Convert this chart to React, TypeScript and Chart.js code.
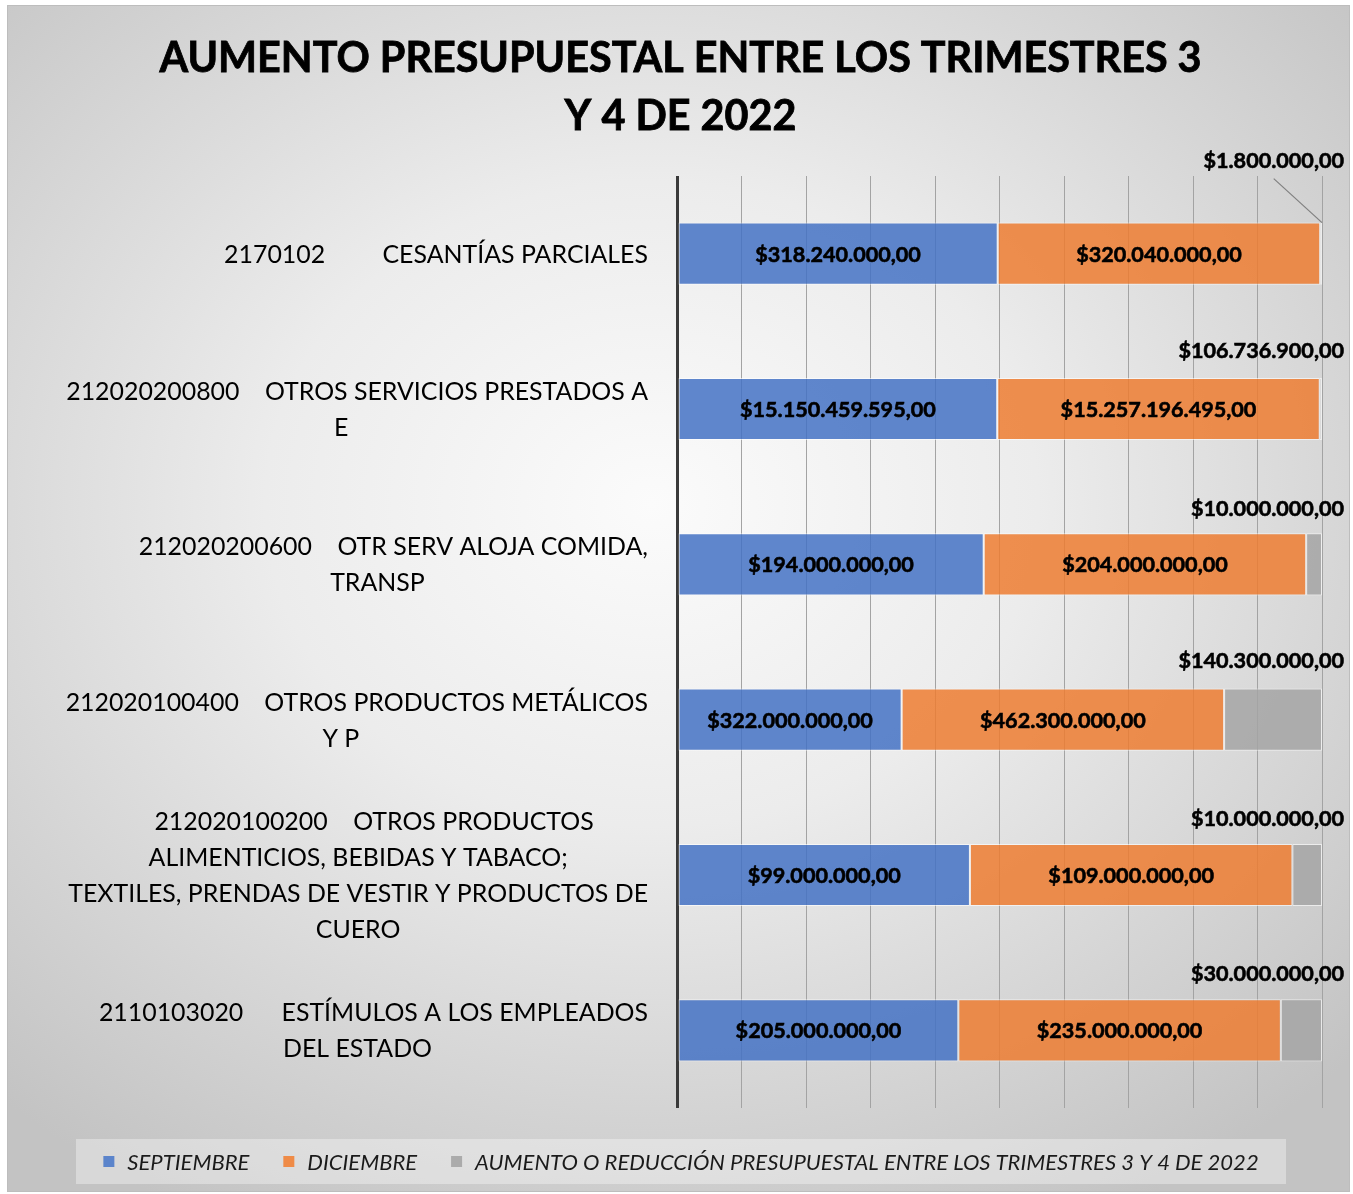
import React, { useEffect, useRef } from "react";
import { Chart, registerables } from "chart.js";

Chart.register(...registerables);

// ---------- data ----------
const TITLE_LINES = ["AUMENTO PRESUPUESTAL ENTRE LOS TRIMESTRES 3", "Y 4 DE 2022"];

const CATEGORIES: string[][] = [
  ["2170102         CESANTÍAS PARCIALES"],
  ["212020200800    OTROS SERVICIOS PRESTADOS A", "E     "],
  ["212020200600    OTR SERV ALOJA COMIDA,", "TRANSP     "],
  ["212020100400    OTROS PRODUCTOS METÁLICOS", "Y P     "],
  [
    "     212020100200    OTROS PRODUCTOS",
    "ALIMENTICIOS, BEBIDAS Y TABACO;",
    "TEXTILES, PRENDAS DE VESTIR Y PRODUCTOS DE",
    "CUERO",
  ],
  ["2110103020      ESTÍMULOS A LOS EMPLEADOS", "DEL ESTADO     "],
];

const SERIES_NAMES = [
  "SEPTIEMBRE",
  "DICIEMBRE",
  "AUMENTO O REDUCCIÓN PRESUPUESTAL ENTRE LOS TRIMESTRES 3 Y 4 DE 2022",
];

const SEPTIEMBRE = [318240000, 15150459595, 194000000, 322000000, 99000000, 205000000];
const DICIEMBRE = [320040000, 15257196495, 204000000, 462300000, 109000000, 235000000];
const AUMENTO = [1800000, 106736900, 10000000, 140300000, 10000000, 30000000];

const PERCENT_TICKS = [0, 10, 20, 30, 40, 50, 60, 70, 80, 90, 100];

// ---------- styling ----------
const COLORS = ["rgba(68,114,196,0.85)", "rgba(237,125,49,0.85)", "rgba(165,165,165,0.85)"];
const LEGEND_MARKERS = ["#5b84cb", "#ef8b47", "#ababab"];
const FONT = "Lato, 'Open Sans', sans-serif";
const CALLOUT_RISE = [93, 58, 55, 59, 56, 56];

const W = 1341;
const H = 1185;

function fmt(v: number): string {
  const [i, d] = v.toFixed(2).split(".");
  return "$" + i.replace(/\B(?=(\d{3})+(?!\d))/g, ".") + "," + d;
}

function boldText(ctx: CanvasRenderingContext2D, s: string, x: number, y: number) {
  ctx.fillText(s, x, y);
  ctx.strokeText(s, x, y);
}

export default function App() {
  const ref = useRef<HTMLCanvasElement | null>(null);

  useEffect(() => {
    if (!ref.current) return;
    const totals = SEPTIEMBRE.map((v, i) => v + DICIEMBRE[i] + AUMENTO[i]);
    const raw = [SEPTIEMBRE, DICIEMBRE, AUMENTO];
    const pct = raw.map((arr) => arr.map((v, i) => (v / totals[i]) * 100));

    const customDraw = {
      id: "customDraw",
      afterDatasetsDraw(chart: any) {
        const ctx = chart.ctx as CanvasRenderingContext2D;
        const area = chart.chartArea;
        ctx.save();
        ctx.fillStyle = "#000";
        ctx.strokeStyle = "#000";
        ctx.lineWidth = 0.6;
        ctx.textBaseline = "middle";
        ctx.font = `bold 21.6px ${FONT}`;
        for (let d = 0; d < 3; d++) {
          const meta = chart.getDatasetMeta(d);
          meta.data.forEach((el: any, i: number) => {
            const val = raw[d][i];
            if (d < 2) {
              ctx.textAlign = "center";
              boldText(ctx, fmt(val), (el.x + el.base) / 2, el.y + 1);
            } else {
              const rise = CALLOUT_RISE[i];
              const ly = el.y - rise;
              const rx = area.right + 22;
              ctx.textAlign = "right";
              ctx.strokeStyle = "#000";
              ctx.lineWidth = 0.6;
              boldText(ctx, fmt(val), rx, ly);
              if (rise > 70) {
                const tw = ctx.measureText(fmt(val)).width;
                ctx.strokeStyle = "#7f7f7f";
                ctx.lineWidth = 1.2;
                ctx.beginPath();
                ctx.moveTo(rx - tw / 2, ly + 18);
                ctx.lineTo(el.x, el.y - el.height / 2);
                ctx.stroke();
              }
            }
          });
        }
        ctx.restore();
      },
      afterDraw(chart: any) {
        const ctx = chart.ctx as CanvasRenderingContext2D;
        const area = chart.chartArea;
        const yScale = chart.scales.y;
        ctx.save();
        // title
        ctx.fillStyle = "#000";
        ctx.strokeStyle = "#000";
        ctx.lineWidth = 0.8;
        ctx.textAlign = "center";
        ctx.textBaseline = "middle";
        ctx.font = `bold 41.3px ${FONT}`;
        boldText(ctx, TITLE_LINES[0], W / 2 + 2, 53);
        boldText(ctx, TITLE_LINES[1], W / 2 + 2, 111);

        // category labels
        ctx.font = `24.9px ${FONT}`;
        const right = area.left - 29;
        CATEGORIES.forEach((lines, i) => {
          const y = yScale.getPixelForValue(i);
          const lh = 36;
          const y0 = y - ((lines.length - 1) * lh) / 2;
          const bw = Math.max(...lines.map((l) => ctx.measureText(l).width));
          const cx = right - bw / 2;
          lines.forEach((l, k) => ctx.fillText(l, cx, y0 + k * lh + 1));
        });

        // legend
        const lx0 = 68, lx1 = 1278, ly0 = 1133, ly1 = 1178;
        ctx.fillStyle = "rgba(255,255,255,0.35)";
        ctx.fillRect(lx0, ly0, lx1 - lx0, ly1 - ly0);
        ctx.font = `italic 22px ${FONT}`;
        const gapMarker = 13;
        const gapItem = 34;
        const msz = 11;
        const widths = SERIES_NAMES.map((n) => ctx.measureText(n).width);
        const total =
          widths.reduce((a, b) => a + b, 0) + SERIES_NAMES.length * (msz + gapMarker) + (SERIES_NAMES.length - 1) * gapItem;
        let x = (lx0 + lx1) / 2 - total / 2;
        const ly = (ly0 + ly1) / 2;
        ctx.textAlign = "left";
        SERIES_NAMES.forEach((n, k) => {
          ctx.fillStyle = LEGEND_MARKERS[k];
          ctx.fillRect(x, ly - msz / 2, msz, msz);
          x += msz + gapMarker;
          ctx.fillStyle = "#1a1a1a";
          ctx.fillText(n, x, ly + 1);
          x += widths[k] + gapItem;
        });
        ctx.restore();
      },
    };

    const chart = new Chart(ref.current, {
      type: "bar",
      data: {
        labels: CATEGORIES,
        datasets: SERIES_NAMES.map((name, d) => ({
          label: name,
          data: pct[d],
          backgroundColor: COLORS[d],
          borderColor: "rgba(255,255,255,0.6)",
          borderWidth: 1,
          borderSkipped: false,
          barPercentage: 0.4,
          categoryPercentage: 1,
        })),
      },
      options: {
        indexAxis: "y",
        responsive: false,
        animation: false,
        layout: { padding: { left: 669, right: 27, top: 170, bottom: 83 } },
        plugins: {
          legend: { display: false },
          title: { display: false },
          tooltip: { enabled: false },
        },
        scales: {
          x: {
            stacked: true,
            min: 0,
            max: 100,
            afterBuildTicks: (scale: any) => {
              scale.ticks = PERCENT_TICKS.map((v) => ({ value: v }));
            },
            ticks: { display: false },
            border: { display: false },
            grid: {
              drawTicks: false,
              color: (c: any) => (c.tick && c.tick.value === 0 ? "#3a3a3a" : "#a3a3a3"),
              lineWidth: (c: any) => (c.tick && c.tick.value === 0 ? 3 : 1),
            },
          },
          y: {
            stacked: true,
            ticks: { display: false },
            grid: { display: false, drawTicks: false },
            border: { display: false },
          },
        },
      },
      plugins: [customDraw],
    } as any);
    return () => chart.destroy();
  }, []);

  return (
    <div
      style={{
        position: "absolute",
        left: 7,
        top: 5,
        width: W,
        height: H,
        border: "1px solid #bdbdbd",
        background:
          "radial-gradient(ellipse 72% 68% at 48% 42%, #fbfbfb 0%, #ececec 40%, #d2d2d2 78%, #c3c3c3 100%)",
      }}
    >
      <canvas ref={ref} width={W} height={H} style={{ display: "block", width: W, height: H }} />
    </div>
  );
}
